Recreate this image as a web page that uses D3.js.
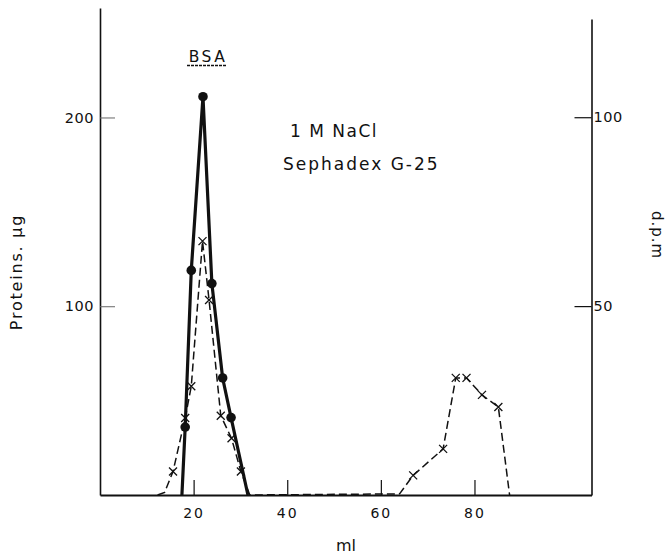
<!DOCTYPE html>
<html>
<head>
<meta charset="utf-8">
<script src="https://cdn.jsdelivr.net/npm/d3@7/dist/d3.min.js"></script>
<style>
  html, body { margin: 0; padding: 0; background: #fff; }
  svg { display: block; }
  text { font-family: "DejaVu Sans", sans-serif; fill: #111; }
</style>
</head>
<body>
<svg id="chart" width="668" height="554"></svg>
<script>
// ---- Data ----
// Proteins (µg), left axis, solid line with filled circles
const proteinMl  = [17.5, 18.2, 19.5, 22.0, 23.9, 26.2, 28.0, 31.6];
const proteinVal = [0,    36,   119,  211,  112,  62,   41,   0];
const proteinDot = [0,    1,    1,    1,    1,    1,    1,    0];

// d.p.m., right axis, dashed line with x markers
const dpmMl  = [12.3, 13.8, 15.6, 18.2, 19.5, 21.9, 23.3, 25.8, 28.1, 30.1, 32.0, 64.0, 66.9, 73.3, 76.0, 78.3, 81.6, 85.1, 87.5];
const dpmVal = [0,    0.7,  6.2,  20.4, 28.8, 67.2, 51.6, 21.0, 15.0, 6.2,  0,    0.3,  5.2,  12.2, 31.0, 31.0, 26.5, 23.3, 0];
const dpmMark= [0,    0,    1,    1,    1,    1,    1,    1,    1,    1,    0,    0,    1,    1,    1,    1,    1,    1,    0];

const xTicks = [20, 40, 60, 80];
const leftTicks = [100, 200];
const rightTicks = [50, 100];

const xLabel = "ml";
const leftLabel = "Proteins.  \u03BCg";
const rightLabel = "d.p.m";
const annotations = ["BSA", "1 M  NaCl", "Sephadex  G-25"];

// ---- Scales ----
const svg = d3.select("#chart");
const x  = d3.scaleLinear().domain([0, 105]).range([100, 591.5]);
const yL = d3.scaleLinear().domain([0, 258]).range([495, 8]);
const yR = d3.scaleLinear().domain([0, 126]).range([495, 19]);

// ---- Axes ----
const gL = svg.append("g").attr("transform", `translate(${x(0)},0)`)
  .call(d3.axisLeft(yL).tickValues(leftTicks).tickSizeInner(-15).tickSizeOuter(0).tickPadding(6).tickFormat(d3.format("d")));
gL.select(".domain").attr("stroke", "#111").attr("stroke-width", 1.6);
gL.selectAll(".tick line").attr("stroke", "#666").attr("stroke-width", 1);
gL.selectAll(".tick text").style("font-size", "14.5px").style("letter-spacing", "0.5px").attr("fill", "#111");

const gR = svg.append("g").attr("transform", `translate(${x(105)},0)`)
  .call(d3.axisRight(yR).tickValues(rightTicks).tickSizeInner(-17).tickSizeOuter(0).tickPadding(2).tickFormat(d3.format("d")));
gR.select(".domain").attr("stroke", "#111").attr("stroke-width", 1.6);
gR.selectAll(".tick line").attr("stroke", "#111").attr("stroke-width", 1.2);
gR.selectAll(".tick text").style("font-size", "14.5px").style("letter-spacing", "0.5px").attr("fill", "#111");

const gB = svg.append("g").attr("transform", `translate(0,${yL(0)})`)
  .call(d3.axisBottom(x).tickValues(xTicks).tickSizeInner(-15).tickSizeOuter(0).tickPadding(13).tickFormat(d3.format("d")));
gB.select(".domain").attr("stroke", "#111").attr("stroke-width", 1.8);
gB.selectAll(".tick line").attr("stroke", "#111").attr("stroke-width", 1.2);
gB.selectAll(".tick text").style("font-size", "14px").style("letter-spacing", "2px").attr("fill", "#111");

// ---- Axis titles ----
svg.append("text").attr("transform", "translate(22,272) rotate(-90)")
  .attr("text-anchor", "middle").style("font-size", "16px").style("letter-spacing", "1.8px").text(leftLabel);
svg.append("text").attr("transform", "translate(652,235) rotate(90)")
  .attr("text-anchor", "middle").style("font-size", "15px").style("letter-spacing", "1px").text(rightLabel);
svg.append("text").attr("x", 346).attr("y", 551)
  .attr("text-anchor", "middle").style("font-size", "16px").text(xLabel);

// ---- Series ----
const dpmData = dpmMl.map((m, i) => ({ m, v: dpmVal[i], mark: dpmMark[i] }));
const protData = proteinMl.map((m, i) => ({ m, v: proteinVal[i], dot: proteinDot[i] }));

svg.append("path").datum(dpmData)
  .attr("fill", "none").attr("stroke", "#111").attr("stroke-width", 1.5)
  .attr("stroke-dasharray", "8,4")
  .attr("d", d3.line().x(d => x(d.m)).y(d => yR(d.v)));

svg.append("path").datum(protData)
  .attr("fill", "none").attr("stroke", "#111").attr("stroke-width", 3.2)
  .attr("stroke-linejoin", "round")
  .attr("d", d3.line().x(d => x(d.m)).y(d => yL(d.v)));

const s = 4;
svg.append("g").selectAll("path").data(dpmData.filter(d => d.mark)).join("path")
  .attr("transform", d => `translate(${x(d.m)},${yR(d.v)})`)
  .attr("d", `M${-s},${-s}L${s},${s}M${-s},${s}L${s},${-s}`)
  .attr("stroke", "#111").attr("stroke-width", 1.3).attr("fill", "none");

svg.append("g").selectAll("circle").data(protData.filter(d => d.dot)).join("circle")
  .attr("cx", d => x(d.m)).attr("cy", d => yL(d.v)).attr("r", 4.8).attr("fill", "#111");

// ---- Annotations ----
svg.append("text").attr("x", 208).attr("y", 62).attr("text-anchor", "middle")
  .style("font-size", "15.5px").style("letter-spacing", "2.5px").text(annotations[0]);
svg.append("line").attr("x1", 187).attr("x2", 227).attr("y1", 65.5).attr("y2", 65.5)
  .attr("stroke", "#111").attr("stroke-width", 1.5).attr("stroke-dasharray", "3,1");
svg.append("text").attr("x", 290).attr("y", 137)
  .style("font-size", "17px").style("letter-spacing", "1.5px").text(annotations[1]);
svg.append("text").attr("x", 283).attr("y", 170)
  .style("font-size", "17px").style("letter-spacing", "2px").text(annotations[2]);
</script>
</body>
</html>
